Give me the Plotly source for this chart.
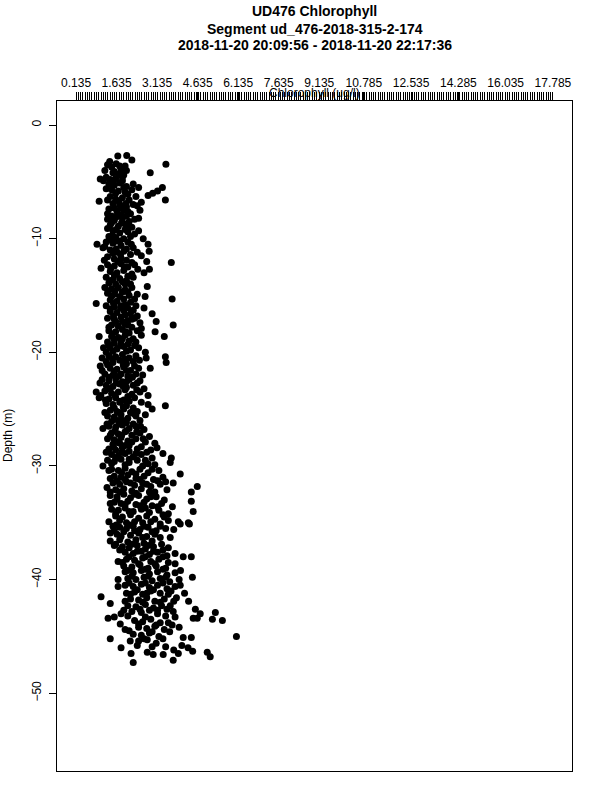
import numpy as np
import plotly.graph_objects as go

title_lines = ["UD476 Chlorophyll",
               "Segment ud_476-2018-315-2-174",
               "2018-11-20 20:09:56 - 2018-11-20 22:17:36"]
x_label = "Chlorophyll (ug/l)"
y_label = "Depth (m)"
x_tick_values = [0.135, 1.635, 3.135, 4.635, 6.135, 7.635, 9.135,
                 10.785, 12.535, 14.285, 16.035, 17.785]
x_tick_labels = ["0.135", "1.635", "3.135", "4.635", "6.135", "7.635", "9.135",
                 "10.785", "12.535", "14.285", "16.035", "17.785"]
y_tick_values = [0, -10, -20, -30, -40, -50]
x_limits = [0.135, 17.785]
y_limits = [-54.66, -0.07]

# descent samples
chl_descent = [
    1.68, 2.01, 2.20, 3.46,
    1.30, 1.45, 1.62, 1.80, 1.95, 1.20, 1.55, 1.72, 1.90, 2.00, 2.88,
    1.03, 1.25, 1.40, 1.60, 1.85, 1.35, 1.55, 1.75, 2.00, 2.25, 2.45, 1.45, 1.70, 1.95, 2.20, 2.80, 2.97, 3.15, 3.33,
    0.99, 3.44, 1.40, 1.60, 1.85, 2.10, 2.35, 2.55, 1.50, 1.75, 2.00, 2.25, 1.35, 1.65, 1.90, 2.15, 2.50, 1.45, 1.80,
    1.30, 1.55, 1.85, 2.10, 2.30, 1.40, 1.70, 1.95, 2.20, 1.50, 1.75, 2.05, 2.30, 1.35, 1.60, 1.90, 2.15, 2.62, 2.80,
    0.91, 1.13, 2.84, 3.66, 1.25, 1.50, 1.80, 2.05, 2.25, 1.40, 1.65, 1.90, 2.15, 1.30, 1.55, 1.80, 2.00, 2.55, 2.75,
    1.06, 1.30, 1.55, 1.80, 2.05, 2.30, 1.40, 1.65, 1.90, 2.20, 2.65, 2.85, 1.25, 1.50, 1.75, 2.00, 2.25, 1.35, 1.60, 1.95,
    1.20, 1.45, 1.70, 1.95, 2.20, 2.77, 1.30, 1.55, 1.85, 2.10, 2.40, 2.69, 3.69, 0.88, 1.40, 1.65, 1.90, 2.15, 1.25, 1.55, 1.80, 2.05, 2.35,
    2.65, 2.95, 3.10, 3.73, 1.40, 1.65, 1.90, 2.15, 2.40, 1.30, 1.55, 1.80, 2.05, 2.30, 2.50, 1.45, 1.70, 1.95, 2.20, 2.55, 1.35, 1.60, 1.85, 2.10,
    3.06, 3.40, 0.99, 1.45, 1.70, 1.95, 2.25, 2.55, 1.30, 1.55, 1.80, 2.05, 2.35, 1.40, 1.65, 1.90, 2.15, 2.45, 1.25, 2.70,
    1.35, 1.60, 1.85, 2.10, 2.35, 2.73, 3.44, 3.47, 1.03, 1.25, 1.50, 1.75, 2.00, 2.25, 2.88, 1.40, 1.65, 1.90, 2.15, 2.45, 1.20, 1.50, 1.80, 2.05, 2.35, 2.60,
    1.10, 1.35, 1.60, 1.85, 2.10, 2.40, 1.25, 1.50, 1.75, 2.00, 2.25, 2.65, 0.88, 1.20, 1.45, 1.70, 1.95, 2.20, 2.50, 2.80, 0.99, 1.35, 1.60, 1.90, 2.30,
    3.44, 2.55, 2.80, 2.95, 1.25, 1.50, 1.75, 2.00, 2.25, 1.40, 1.65, 1.90, 2.15, 2.70, 1.30, 1.55, 1.80, 2.05, 2.35, 1.45, 1.70, 2.00, 2.50,
    1.13, 1.35, 1.60, 1.85, 2.10, 2.35, 2.65, 1.45, 1.70, 1.95, 2.20, 2.50, 2.85, 1.30, 1.55, 1.80, 2.05, 2.35, 2.70, 1.50, 1.75, 2.10, 3.05,
    3.13, 3.35, 3.66, 3.62, 1.35, 1.60, 1.85, 2.10, 2.40, 2.75, 1.45, 1.70, 1.95, 2.25, 2.55, 2.95, 1.30, 1.55, 1.80, 2.10, 2.40, 2.80, 1.13,
    3.99, 3.73, 4.62, 4.40, 1.28, 1.45, 1.70, 1.95, 2.20, 2.50, 2.80, 3.20, 1.55, 1.80, 2.05, 2.35, 2.65, 3.00, 3.35, 1.50, 1.75, 2.00, 2.30, 2.60, 2.90, 3.25, 1.60, 1.90, 2.20, 2.55, 2.85, 3.50,
    4.40, 4.47, 3.92, 4.29, 1.40, 1.65, 1.90, 2.15, 2.45, 2.75, 3.10, 3.40, 1.55, 1.80, 2.05, 2.35, 2.65, 2.95, 3.30, 3.70, 1.45, 1.70, 1.95, 2.25, 2.55, 2.85, 3.20, 3.55, 1.60, 1.85, 2.15, 2.45, 2.75, 3.05, 3.40, 1.35, 2.00, 2.60, 3.25,
    3.99, 4.33, 1.50, 1.75, 2.00, 2.25, 2.50, 2.80, 3.10, 3.45, 1.40, 1.65, 1.90, 2.15, 2.45, 2.75, 3.05, 3.62, 1.40, 1.75, 2.05, 2.35, 2.65, 2.95, 3.30, 1.55,
    1.85, 2.10, 2.40, 2.70, 3.00, 3.35, 1.95, 2.25, 2.55, 2.85, 3.15, 3.50, 4.10, 4.40, 1.69, 2.00, 2.30, 2.60, 2.90, 3.20, 3.55, 1.90, 2.20, 2.50, 2.80, 3.10, 3.45,
    4.44, 1.69, 1.69, 3.99, 4.15, 1.95, 2.25, 2.55, 2.85, 3.15, 3.50, 3.80, 2.05, 2.35, 2.65, 2.95, 3.25, 3.60, 1.95, 2.25, 2.55, 2.85, 3.15, 3.50, 3.80,
    1.06, 1.40, 3.62, 3.73, 3.80, 4.55, 4.73, 4.62, 5.29, 4.47, 2.00, 2.30, 2.60, 2.90, 3.25, 2.15, 2.45, 2.75, 3.05, 3.40, 2.05, 2.35, 2.70, 3.00, 3.30, 1.90, 2.20, 2.55, 2.85, 3.15,
    5.55, 5.18, 1.32, 1.55, 1.80, 1.77, 1.95, 3.69, 3.95, 6.07, 2.30, 2.60, 2.90, 3.25, 2.45, 2.75, 3.05, 3.40, 2.25, 2.55, 2.85, 3.20,
    1.40, 4.10, 4.40, 2.14, 2.45, 2.77, 3.10, 3.45, 3.75, 1.80, 4.28, 4.45, 4.99, 5.10, 2.17, 2.77, 2.99, 3.36, 3.92, 2.25, 3.73, 4.30,
]

depth_descent = [
    -2.72, -2.68, -3.08, -3.45,
    -3.5, -3.7, -3.4, -3.9, -3.6, -4.0, -4.1, -4.3, -4.4, -4.0, -4.2,
    -4.75, -4.6, -4.8, -4.7, -4.9, -5.2, -5.3, -5.1, -5.4, -5.2, -5.5, -5.7, -5.8, -5.9, -5.7, -6.2, -6.0, -5.8, -5.5,
    -6.7, -6.6, -6.3, -6.5, -6.4, -6.6, -6.3, -6.8, -6.9, -7.0, -7.2, -7.0, -7.4, -7.6, -7.5, -7.8, -7.5, -8.0, -7.9,
    -8.3, -8.4, -8.2, -8.5, -8.3, -8.8, -8.9, -8.7, -9.0, -9.3, -9.5, -9.4, -9.6, -9.8, -9.9, -10.0, -9.8, -10.0, -10.5,
    -10.5, -10.8, -11.1, -12.1, -10.3, -10.4, -10.6, -10.3, -10.8, -11.0, -11.2, -11.1, -11.4, -11.6, -11.8, -11.7, -11.9, -11.5, -12.0,
    -12.6, -12.3, -12.4, -12.2, -12.5, -12.3, -12.9, -13.0, -12.8, -13.1, -13.0, -12.7, -13.4, -13.6, -13.5, -13.7, -13.4, -13.9, -14.0, -14.0,
    -14.3, -14.4, -14.3, -14.5, -14.3, -14.2, -14.8, -14.9, -14.7, -15.0, -14.9, -15.1, -15.3, -15.7, -15.4, -15.5, -15.3, -15.6, -15.9, -16.0, -15.9, -16.1, -15.9,
    -16.1, -16.6, -17.3, -17.6, -16.4, -16.5, -16.3, -16.6, -16.8, -17.0, -17.1, -16.9, -17.2, -17.0, -17.4, -17.6, -17.7, -17.5, -17.8, -17.9, -18.1, -18.2, -18.0, -18.3,
    -18.2, -18.6, -18.6, -18.6, -18.7, -18.5, -18.8, -18.5, -19.1, -19.2, -19.0, -19.3, -19.1, -19.6, -19.7, -19.5, -19.8, -19.6, -20.0, -20.0,
    -20.3, -20.4, -20.2, -20.5, -20.3, -20.5, -20.4, -20.9, -21.2, -20.8, -20.9, -20.7, -21.0, -20.8, -21.4, -21.4, -21.5, -21.3, -21.6, -21.4, -21.9, -22.0, -21.9, -22.1, -21.9, -22.0,
    -22.4, -22.5, -22.3, -22.6, -22.4, -22.7, -22.9, -23.0, -22.8, -23.1, -22.9, -23.2, -23.5, -23.4, -23.6, -23.5, -23.3, -23.7, -23.5, -23.8, -24.0, -24.1, -24.0, -24.2, -24.0,
    -24.7, -24.4, -24.6, -25.0, -24.5, -24.6, -24.4, -24.7, -24.9, -25.1, -25.2, -25.0, -25.3, -25.5, -25.6, -25.7, -25.5, -25.8, -25.6, -26.1, -26.0, -26.2, -26.0,
    -26.7, -26.5, -26.6, -26.4, -26.7, -26.5, -26.8, -27.1, -27.2, -27.0, -27.3, -27.1, -27.4, -27.6, -27.7, -27.5, -27.8, -27.6, -27.9, -28.1, -28.0, -28.2, -28.0,
    -28.4, -28.9, -29.3, -29.7, -28.5, -28.6, -28.4, -28.7, -28.5, -28.8, -29.0, -29.1, -28.9, -29.2, -29.0, -29.3, -29.5, -29.6, -29.4, -29.7, -29.5, -29.8, -30.0,
    -30.7, -31.5, -31.8, -32.3, -31.9, -30.3, -30.4, -30.2, -30.5, -30.3, -30.6, -30.4, -30.9, -31.0, -30.8, -31.1, -30.9, -31.2, -31.0, -31.5, -31.6, -31.4, -31.7, -31.5, -31.8, -31.6, -32.1, -32.0, -32.2, -32.0, -32.3, -32.1,
    -33.1, -34.0, -34.9, -35.0, -32.6, -32.7, -32.5, -32.8, -32.6, -32.9, -32.7, -33.0, -33.2, -33.3, -33.1, -33.4, -33.2, -33.5, -33.3, -33.6, -33.8, -33.9, -33.7, -34.0, -33.8, -34.1, -33.9, -34.2, -34.4, -34.5, -34.3, -34.6, -34.4, -34.7, -34.5, -34.9, -35.0, -35.0, -35.1,
    -35.1, -35.1, -35.3, -35.4, -35.5, -35.3, -35.6, -35.4, -35.7, -35.5, -35.9, -36.0, -35.8, -36.1, -35.9, -36.2, -36.0, -36.3, -36.6, -36.5, -36.7, -36.5, -36.8, -36.6, -36.9, -37.0,
    -37.1, -37.2, -37.0, -37.3, -37.1, -37.4, -37.6, -37.7, -37.5, -37.8, -37.6, -37.9, -38.0, -38.0, -38.4, -38.2, -38.3, -38.1, -38.4, -38.2, -38.5, -38.8, -38.9, -38.7, -39.0, -38.8, -39.0,
    -39.8, -40.0, -40.6, -40.5, -41.2, -39.3, -39.4, -39.2, -39.5, -39.3, -39.6, -39.4, -39.9, -40.0, -39.8, -40.1, -39.9, -40.2, -40.5, -40.6, -40.4, -40.7, -40.5, -40.8, -40.6,
    -41.5, -42.1, -42.3, -42.8, -43.3, -42.6, -43.0, -43.4, -42.9, -43.4, -41.2, -41.1, -41.3, -41.0, -41.2, -41.7, -41.8, -41.6, -41.9, -41.7, -42.3, -42.4, -42.2, -42.5, -42.3, -42.7, -42.8, -42.9, -42.7, -43.0,
    -43.6, -43.5, -43.4, -43.3, -43.0, -43.9, -44.4, -44.0, -44.2, -45.0, -43.6, -43.7, -43.5, -43.8, -44.2, -44.3, -44.1, -44.4, -44.8, -44.9, -44.7, -45.0,
    -45.2, -45.1, -45.1, -45.4, -45.4, -45.3, -45.6, -45.9, -46.2, -46.0, -46.0, -46.3, -46.4, -46.8, -46.5, -46.4, -46.6, -46.6, -46.5, -47.3, -47.1, -41.9,
]

# ascent samples
chl_ascent = [
    1.38, 1.75, 1.50, 1.85, 1.15, 1.52, 1.90, 1.25, 1.60, 2.05, 1.30, 1.72, 1.98, 2.40, 1.55, 1.78, 2.05, 1.30, 1.62, 2.00, 2.45, 1.45, 1.82, 2.08, 1.30, 1.62, 1.95, 2.45, 1.48, 1.75,
    1.38, 1.65, 2.18, 1.20, 1.62, 2.00, 1.50, 1.78, 2.40, 1.18, 1.68, 2.20, 1.42, 1.92, 2.42, 1.55, 2.05, 1.38, 1.85, 2.15, 1.32, 1.58, 2.05, 1.45, 1.75, 2.30, 1.52, 1.95, 1.40, 1.78, 2.25, 1.52, 1.95, 2.20, 1.60, 1.85, 1.35, 2.05, 1.48, 1.98, 2.40, 1.55, 1.85, 2.10, 1.35, 1.78, 2.30, 1.50, 2.00, 1.15,
    1.10, 1.48, 1.95, 2.48, 1.30, 1.88, 2.30, 1.10, 1.55, 2.00, 1.35, 1.72, 2.22, 1.02, 1.62, 2.00, 2.50, 1.38, 1.88, 2.38, 1.05, 1.58, 2.05, 1.22, 1.78, 2.10, 1.55, 1.88, 2.40, 1.20, 1.72, 2.28, 1.55, 1.88, 2.25, 1.28, 1.72, 2.52, 1.58, 2.00, 2.38, 1.40, 1.82, 2.62, 1.65, 2.20,
    1.52, 1.95, 2.55, 2.90, 1.25, 1.82, 2.35, 1.60, 2.10, 2.70, 1.45, 1.95, 2.60, 3.05, 1.35, 1.82, 2.35, 2.95, 1.40, 1.95, 2.50, 3.15, 1.65, 2.15, 2.75, 3.45, 1.40, 1.75, 2.35, 3.05, 1.65, 2.30, 2.90, 1.40, 1.95, 2.50, 3.15, 1.60, 2.10, 2.70, 3.35, 1.75, 2.30, 2.90, 3.55,
    1.62, 2.12, 2.65, 3.25, 3.75, 1.55, 2.30, 2.95, 1.80, 2.60, 3.25, 1.60, 2.20, 2.80, 3.55, 1.75, 2.40, 3.00, 3.80, 2.10, 2.70, 3.35, 1.85, 2.45, 3.05, 3.80, 2.05, 2.70, 3.35, 4.00, 2.20, 2.80, 3.45, 2.10, 2.70, 3.35, 3.95, 2.40, 3.00, 3.65,
    2.15, 2.75, 3.55, 3.85, 1.95, 2.60, 3.25, 3.75, 2.50, 3.15, 3.50, 2.05, 2.70, 3.45, 2.45, 3.10, 3.55, 2.10, 2.95, 3.60, 2.65, 3.35, 2.40, 2.95, 4.05,
]

depth_ascent = [
    -3.2, -3.6, -4.2, -4.6, -4.9, -5.0, -5.5, -5.6, -6.0, -6.1, -6.6, -6.7, -6.9, -7.1, -7.3, -7.3, -7.6, -7.8, -8.1, -8.0, -8.2, -8.6, -8.6, -8.9, -9.1, -9.2, -9.2, -9.3, -9.7, -10.2,
    -10.1, -10.2, -10.5, -10.7, -10.9, -10.9, -11.3, -11.4, -11.2, -11.9, -12.0, -12.1, -12.6, -12.5, -12.7, -13.2, -13.3, -13.7, -13.8, -14.0, -14.6, -14.6, -14.7, -15.1, -15.1, -15.3, -15.7, -15.8, -16.2, -16.1, -16.3, -16.8, -16.7, -17.1, -17.3, -17.3, -17.8, -17.6, -18.4, -18.2, -18.1, -18.9, -18.8, -19.0, -19.4, -19.4, -19.4, -19.9, -19.9, -19.6,
    -20.5, -20.6, -20.6, -20.7, -21.1, -21.1, -21.2, -21.6, -21.7, -21.6, -22.2, -22.1, -22.2, -22.7, -22.7, -22.6, -22.5, -23.2, -23.0, -23.3, -23.8, -23.8, -23.9, -24.2, -24.3, -24.3, -24.9, -24.8, -25.2, -25.3, -25.3, -25.4, -25.9, -26.0, -26.3, -26.3, -26.3, -26.5, -26.9, -26.9, -27.0, -27.3, -27.3, -27.6, -27.9, -27.9,
    -28.3, -28.2, -28.3, -28.6, -28.8, -28.8, -28.9, -29.3, -29.4, -29.5, -29.8, -29.9, -30.0, -29.9, -30.4, -30.6, -30.7, -30.3, -31.1, -31.2, -31.2, -31.3, -31.3, -31.5, -31.6, -31.4, -32.3, -32.3, -32.4, -32.3, -32.9, -32.5, -32.7, -33.3, -33.4, -33.5, -33.6, -34.2, -34.0, -33.7, -34.3, -34.8, -34.9, -34.9, -34.8,
    -35.2, -35.2, -35.3, -35.3, -35.6, -35.7, -35.7, -35.8, -36.2, -36.3, -36.3, -36.9, -36.9, -37.0, -37.2, -37.4, -37.5, -37.5, -37.7, -38.0, -38.0, -38.0, -38.5, -38.6, -38.6, -38.6, -39.2, -39.1, -39.1, -39.2, -39.7, -39.7, -39.8, -40.3, -40.3, -40.3, -40.0, -40.9, -40.9, -41.0,
    -41.3, -41.2, -41.3, -41.6, -41.9, -42.0, -42.0, -41.9, -42.6, -42.7, -42.6, -43.2, -43.3, -43.2, -43.9, -44.0, -43.8, -44.5, -44.6, -44.6, -45.2, -45.2, -45.8, -45.9, -45.8,
]

# R-style axis padding (4% on each side)
pad = 0.04
xspan = x_limits[1] - x_limits[0]
yspan = y_limits[1] - y_limits[0]
x_range = [x_limits[0] - pad * xspan, x_limits[1] + pad * xspan]
y_range = [y_limits[0] - pad * yspan, y_limits[1] + pad * yspan]
minor_ticks = list(np.linspace(x_limits[0], x_limits[1], 211))

fig = go.Figure()
for cx, dy in [(chl_descent, depth_descent), (chl_ascent, depth_ascent)]:
    fig.add_trace(go.Scatter(
        x=cx, y=dy, mode="markers",
        marker=dict(color="black", size=7, line=dict(width=0)),
        hoverinfo="skip",
    ))

ML, MR, MT, MB = 57, 28, 101, 29
W, H = 600, 800
plot_h = H - MT - MB
plot_w = W - ML - MR

fig.update_layout(
    width=W, height=H,
    margin=dict(l=ML, r=MR, t=MT, b=MB, pad=0),
    paper_bgcolor="white", plot_bgcolor="white",
    showlegend=False,
    font=dict(family="Liberation Sans, Arial, sans-serif", size=12, color="black"),
)
fig.update_xaxes(
    side="top", range=x_range, tickmode="array",
    tickvals=x_tick_values, ticktext=x_tick_labels,
    ticks="outside", ticklen=8, tickwidth=1, tickcolor="black",
    showgrid=False, zeroline=False,
    showline=True, linecolor="black", linewidth=1, mirror=True,
    tickfont=dict(size=12),
    minor=dict(tickmode="array", tickvals=minor_ticks, ticks="outside",
               ticklen=8, tickwidth=1, tickcolor="black", showgrid=False),
)
fig.update_yaxes(
    range=y_range, tickmode="array", tickvals=y_tick_values,
    ticks="outside", ticklen=7, tickwidth=1, tickcolor="black",
    tickangle=-90, showgrid=False, zeroline=False,
    showline=True, linecolor="black", linewidth=1, mirror=True,
    tickfont=dict(size=12), ticklabelstandoff=3,
)

def py(px):
    return 1 + (MT - px) / plot_h

annotations = []
for line, ypx in zip(title_lines, [11.5, 28.5, 45]):
    annotations.append(dict(text="<b>" + line + "</b>", x=0.5, y=py(ypx),
                            xref="paper", yref="paper", showarrow=False,
                            xanchor="center", yanchor="middle",
                            font=dict(size=14, color="black")))
annotations.append(dict(text=x_label, x=0.5, y=py(93), xref="paper", yref="paper",
                        showarrow=False, xanchor="center", yanchor="middle",
                        font=dict(size=12, color="black")))
annotations.append(dict(text=y_label, x=(8 - ML) / plot_w, y=0.5, xref="paper", yref="paper",
                        showarrow=False, xanchor="center", yanchor="middle", textangle=-90,
                        font=dict(size=12, color="black")))
fig.update_layout(annotations=annotations)

fig.write_html("out.html", config={"displayModeBar": False},
               post_script="document.body.style.margin='0px';")
